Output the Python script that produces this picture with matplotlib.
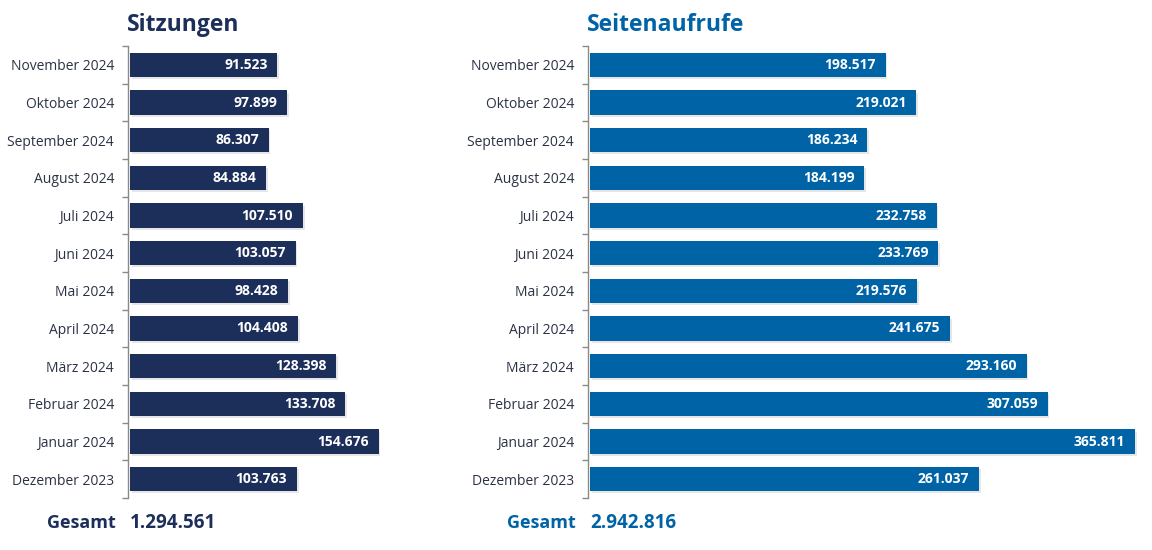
import matplotlib.pyplot as plt
import matplotlib.patheffects as pe
import numpy as np

plt.rcParams['font.family'] = ['Open Sans', 'DejaVu Sans']

months = ['November 2024', 'Oktober 2024', 'September 2024', 'August 2024',
          'Juli 2024', 'Juni 2024', 'Mai 2024', 'April 2024', 'März 2024',
          'Februar 2024', 'Januar 2024', 'Dezember 2023']
sitzungen = [91523, 97899, 86307, 84884, 107510, 103057, 98428, 104408,
             128398, 133708, 154676, 103763]
seitenaufrufe = [198517, 219021, 186234, 184199, 232758, 233769, 219576,
                 241675, 293160, 307059, 365811, 261037]
titles = ['Sitzungen', 'Seitenaufrufe']
totals = [1294561, 2942816]
colors = ['#1c2f5a', '#0063a6']


def de_fmt(v):
    return f'{v:,}'.replace(',', '.')


W, H = 1152, 550
fig = plt.figure(figsize=(W / 100, H / 100), dpi=100)

# (left px, width px, px per unit)
panels = [(128, 302, 0.001608), (588, 557, 0.00149)]
y = np.arange(len(months))

for (left, width, scale), vals, title, total, col in zip(panels, [sitzungen, seitenaufrufe],
                                                        titles, totals, colors):
    ax = fig.add_axes([left / W, 1 - 498 / H, width / W, (498 - 46) / H])
    bars = ax.barh(y, vals, height=0.64, color=col, zorder=3)
    for b in bars:
        b.set_path_effects([pe.SimplePatchShadow(offset=(1.2, -1.5), shadow_rgbFace='#c8c8c8', alpha=0.45),
                            pe.Normal()])
    for yi, v in zip(y, vals):
        ax.annotate(de_fmt(v), (v, yi), xytext=(-7, 0), textcoords='offset points',
                    ha='right', va='center', color='white', fontsize=10,
                    fontweight='bold', zorder=4)
    ax.set_ylim(len(months) - 0.5, -0.5)
    ax.set_xlim(-2 / scale, (width - 2) / scale)
    ax.set_yticks(y)
    ax.set_yticklabels(months, fontsize=10, color='#2b3245')
    ax.set_yticks(np.arange(len(months) + 1) - 0.5, minor=True)
    ax.tick_params(axis='y', which='major', length=0, pad=10)
    ax.tick_params(axis='y', which='minor', length=4, color='#8a8a8a', width=1)
    ax.set_xticks([])
    for s in ['top', 'right', 'bottom']:
        ax.spines[s].set_visible(False)
    ax.spines['left'].set_color('#8a8a8a')
    ax.spines['left'].set_linewidth(1)

    fig.text((left - 1) / W, 1 - 25 / H, title, fontsize=16.5, fontweight='bold',
             color=col, ha='left', va='center')
    fig.text((left - 12) / W, 1 - 523 / H, 'Gesamt', fontsize=13, fontweight='bold',
             color=col, ha='right', va='center')
    fig.text((left + 2) / W, 1 - 523 / H, de_fmt(total), fontsize=13.5, fontweight='bold',
             color=col, ha='left', va='center')

fig.savefig('out.png', dpi=100)
